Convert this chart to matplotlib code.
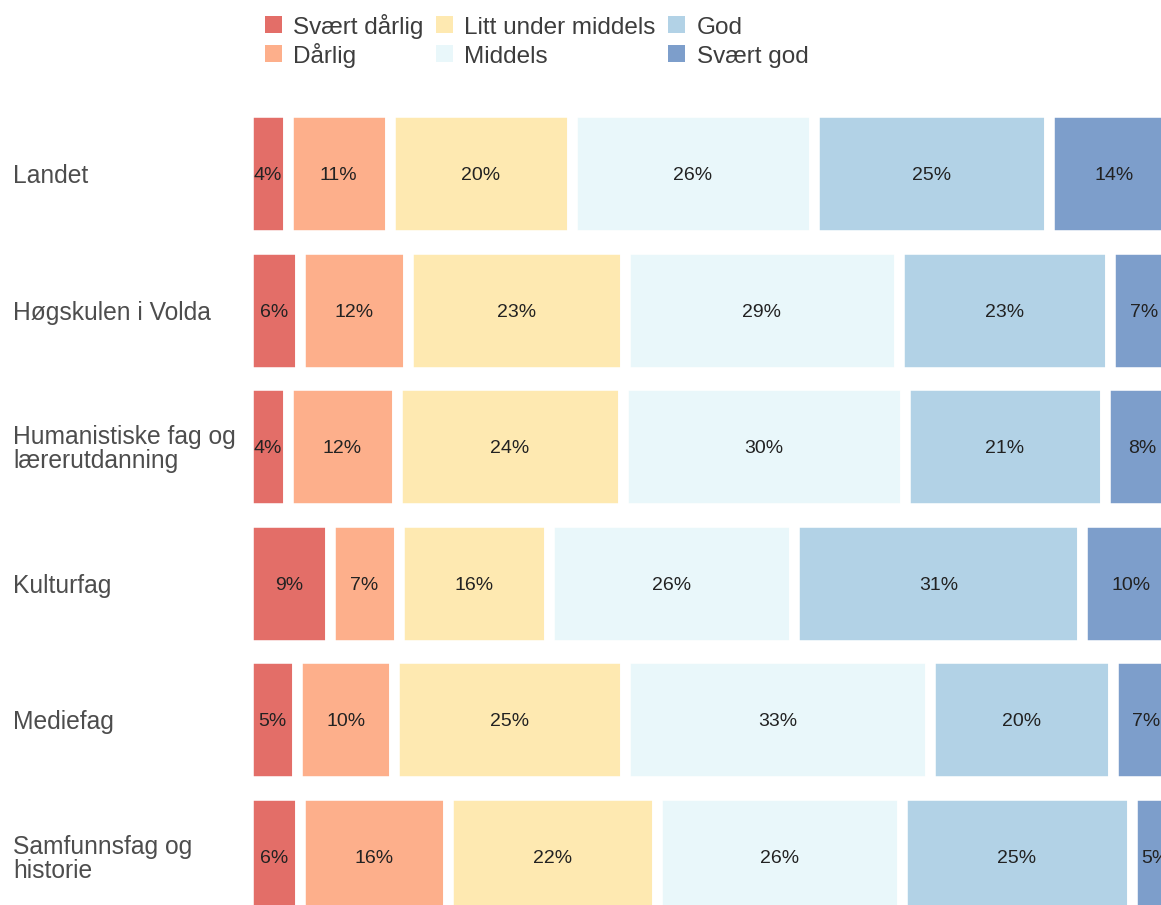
import matplotlib.pyplot as plt
from matplotlib.colors import to_rgb
from matplotlib.patches import Rectangle

# --------------------------
# Data: share of answers per unit (percent)
# --------------------------
categories = ['Landet', 'Høgskulen i Volda', 'Humanistiske fag og\nlærerutdanning',
              'Kulturfag', 'Mediefag', 'Samfunnsfag og\nhistorie']
levels = ['Svært dårlig', 'Dårlig', 'Litt under middels', 'Middels', 'God', 'Svært god']

svaert_darlig = [4.3, 5.6, 4.3, 8.8, 5.3, 5.6]
darlig = [10.9, 11.6, 11.7, 7.4, 10.4, 15.9]
litt_under = [19.6, 23.3, 24.3, 16.1, 24.8, 22.4]
middels = [26.0, 29.4, 30.3, 26.4, 32.8, 26.3]
god = [25.2, 22.7, 21.4, 30.9, 19.6, 24.7]
svaert_god = [14.0, 7.4, 8.0, 10.4, 7.1, 5.1]

series = [svaert_darlig, darlig, litt_under, middels, god, svaert_god]
# RdYlBu (6), faded to 70% on white
base = ['#d73027', '#fc8d59', '#fee090', '#e0f3f8', '#91bfdb', '#4575b4']
colors = [tuple(0.7 * c + 0.3 for c in to_rgb(b)) for b in base]

# --------------------------
# Figure layout (pixels -> figure fractions)
# --------------------------
W, H, DPI = 1161, 905, 100
fig = plt.figure(figsize=(W / DPI, H / DPI), dpi=DPI)
plt.rcParams['font.family'] = ['Liberation Sans', 'DejaVu Sans']

x0_px, x100_px = 248, 1179
top_px, bot_px = 105.2, 924.8
ax = fig.add_axes([x0_px / W, (H - bot_px) / H, (x100_px - x0_px) / W, (bot_px - top_px) / H])

ypos = list(range(len(categories)))
left = [0.0] * len(categories)
for vals, col, lab in zip(series, colors, levels):
    ax.barh(ypos, vals, left=left, height=0.9, color=col,
            edgecolor='white', linewidth=7.6, label=lab)
    for y, l, v in zip(ypos, left, vals):
        ax.text(l + v / 2, y, f'{v:.0f}%', ha='center', va='center_baseline',
                fontsize=14, color='#222222', clip_on=False)
    left = [l + v for l, v in zip(left, vals)]

ax.set_xlim(0, 100)
ax.set_ylim(len(categories) - 0.5, -0.5)
ax.set_xticks([])
ax.set_yticks(ypos)
ax.set_yticklabels(categories, fontsize=17.7, color='#4d4d4d', ha='left', linespacing=1.0)
ax.tick_params(axis='y', length=0, pad=(x0_px - 13) * 72 / DPI)
for s in ax.spines.values():
    s.set_visible(False)

# --------------------------
# Legend on top: 3 columns, filled column by column
# --------------------------
key_x = [265, 436, 668]
text_x = [293, 464, 697]
row_y = [25, 54]
key = 17
for i, (lab, col) in enumerate(zip(levels, colors)):
    c, r = i // 2, i % 2
    yc = row_y[r]
    fig.add_artist(Rectangle((key_x[c] / W, 1 - (yc + key / 2) / H), key / W, key / H,
                             transform=fig.transFigure, facecolor=col, edgecolor='none'))
    fig.text(text_x[c] / W, 1 - (yc + 8.7) / H, lab, ha='left', va='baseline',
             fontsize=17.5, color='#3d3d3d')

fig.savefig('out.png', dpi=DPI)
